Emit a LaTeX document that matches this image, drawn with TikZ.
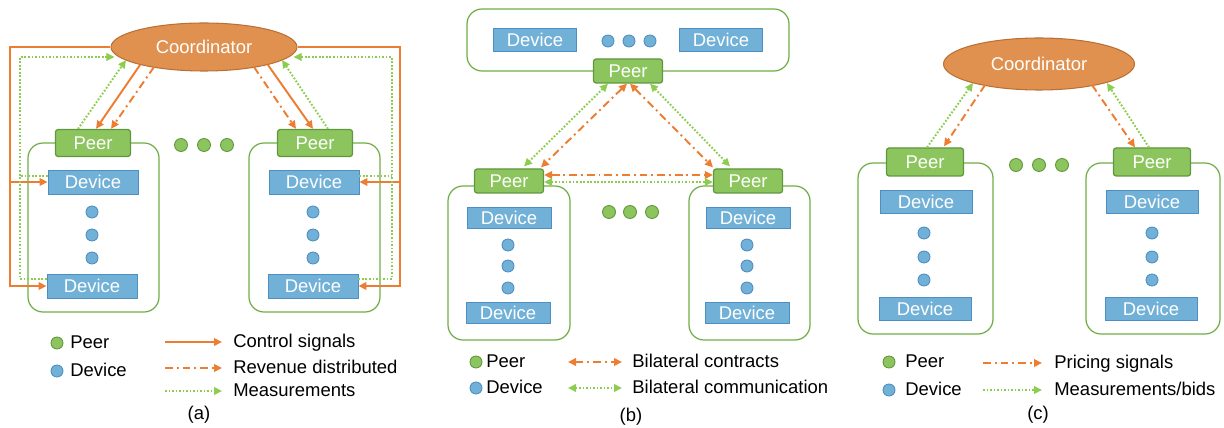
\documentclass[tikz,border=0pt]{standalone}
\usepackage{fontspec}
\setmainfont{Liberation Sans}
\usepackage{tikz}
\usetikzlibrary{calc,shapes.geometric,arrows.meta}
\definecolor{myorange}{RGB}{224,145,80}
\definecolor{myorangedark}{RGB}{186,112,52}
\definecolor{myorangeline}{RGB}{237,125,49}
\definecolor{mygreen}{RGB}{140,197,93}
\definecolor{mygreendark}{RGB}{96,150,60}
\definecolor{myblue}{RGB}{113,176,215}
\definecolor{mybluedark}{RGB}{78,142,194}
\definecolor{mydots}{RGB}{140,205,80}
\definecolor{mygroup}{RGB}{112,173,71}
\tikzset{
    peer/.style={
        draw=mygreendark, fill=mygreen, rounded corners=1.5pt,
        line width=0.7pt, inner sep=0pt, text=white,
        minimum width=15mm, minimum height=5.4mm
    },
    device/.style={
        draw=mybluedark, fill=myblue, line width=0.5pt,
        inner sep=0pt, text=white,
        minimum width=18mm, minimum height=4.8mm
    }
}

\begin{document}
\begin{tikzpicture}[
    x=0.2mm, y=-0.2mm,
    font=\fontsize{10.5}{12}\selectfont,
    >={Triangle[length=1.6mm,width=1.5mm]},
  coord/.style={
    ellipse,
    draw=myorangedark,
    fill=myorange,
    line width=0.6pt,
    inner sep=0pt,
    text=white,
    minimum width=37.2mm,
    minimum height=9.6mm
    },
  group/.style={draw=mygroup, line width=0.7pt, rounded corners=3mm},
  gdot/.style={draw=mygreendark, fill=mygreen, line width=0.5pt},
  bdot/.style={draw=mybluedark, fill=myblue, line width=0.5pt},
  ctrl/.style={draw=myorangeline, line width=1.1pt, ->},
  rev/.style={ctrl, dash pattern=on 4.5pt off 2.2pt on 1.1pt off 2.2pt},
  meas/.style={draw=mydots, line width=1.1pt, dash pattern=on 1pt off 1pt, ->},
  legend/.style={anchor=west, inner sep=0pt, text height=1.6ex, text depth=0.4ex}
      ]
\useasboundingbox (0,0) rectangle (1224,428);

% (a)
\draw[group] (28,143) rectangle (159,312);
\draw[group] (249,143) rectangle (380,312);
\node[coord] (ca) at (204,47) {Coordinator};
\node[peer] (pa1) at (93,143) {Peer};
\node[peer] (pa2) at (315,143) {Peer};
\node[device] (da1) at (93,182) {Device};
\node[device] (da2) at (92,286) {Device};
\node[device] (da3) at (314,182) {Device};
\node[device] (da4) at (313,286) {Device};
\foreach \y in {212,235,258}
  {
  \draw[bdot] (92,\y) circle (1.2mm);
  \draw[bdot] (313,\y) circle (1.2mm);
  }
\foreach \x in {181,204,227}
  \draw[gdot] (\x,145) circle (1.3mm);

\coordinate (ol) at (10,47);
\coordinate (ml) at (20,57);
\coordinate (or) at (400,47);
\coordinate (mr) at (392,57);
\draw[ctrl] (ca.west) -- (ol) |- (da2.west);
\draw[ctrl] (ol |- da1.west) -- (da1.west);
\draw[meas] ($(da2.west)+(0,-7)$) -| (ml) -- ($(ml -| ca.west)+(4,0)$);
\draw[meas,-] ($(da1.west)+(0,-6)$) -- +(-28,0);
\draw[ctrl] (ca.east) -- (or) |- (da4.east);
\draw[ctrl] (or |- da3.east) -- (da3.east);
\draw[meas] ($(da4.east)+(0,-7)$) -| (mr) -- ($(mr -| ca.east)+(-4,0)$);
\draw[meas,-] ($(da3.east)+(0,-6)$) -- +(33,0);

\draw[ctrl] ($(ca)+(-64,18)$) -- ($(pa1.north)+(3,0)$);
\draw[rev] ($(ca)+(-50,20)$) -- ($(pa1.north)+(18,0)$);
\draw[meas] ($(pa1.north)+(-15,0)$) -- ($(ca)+(-78,13)$);
\draw[ctrl] ($(ca)+(64,18)$) -- ($(pa2.north)+(-2,0)$);
\draw[rev] ($(ca)+(50,20)$) -- ($(pa2.north)+(-19,0)$);
\draw[meas] ($(pa2.north)+(13,0)$) -- ($(ca)+(78,13)$);

\draw[gdot] (57,343) circle (1.2mm);
\node[legend] (lpa) at (70,343) {Peer};
\draw[bdot] (57,371) circle (1.2mm);
\node[legend] (lda) at (70,371) {Device};
\node[legend] (la1) at (233,342) {Control signals};
\node[legend] (la2) at (233,368) {Revenue distributed};
\node[legend] (la3) at (233,391) {Measurements};
\foreach \Kind/\Label in {ctrl/la1, rev/la2, meas/la3}
  \draw[\Kind] ($(\Label.west)+(-68,0)$) -- ($(\Label.west)+(-11,0)$);
\node (capa) at (199,415) {(a)};

% (b)
\draw[group] (467,9) rectangle (789,71);
\draw[group] (448,186) rectangle (570,340);
\draw[group] (689,186) rectangle (810,340);
\node[device, minimum width=16.6mm, minimum height=4.6mm] (db1) at (535,40) {Device};
\node[device, minimum width=16.6mm, minimum height=4.6mm] (db2) at (721,40) {Device};
\foreach \x in {608,629,650}
  \draw[bdot] (\x,41) circle (1.2mm);
\node[peer, minimum width=13.8mm, minimum height=4.8mm] (pb0) at (628,71) {Peer};
\node[peer, minimum width=13.8mm, minimum height=4.8mm] (pb1) at (509,181) {Peer};
\node[peer, minimum width=13.8mm, minimum height=4.8mm] (pb2) at (748,181) {Peer};
\node[device, minimum width=16.8mm, minimum height=4.3mm] (db3) at (509,218) {Device};
\node[device, minimum width=16.8mm, minimum height=4.3mm] (db4) at (508,313) {Device};
\node[device, minimum width=16.8mm, minimum height=4.3mm] (db5) at (748,218) {Device};
\node[device, minimum width=16.8mm, minimum height=4.3mm] (db6) at (747,313) {Device};
\foreach \y in {245,266,288}
  {
  \draw[bdot] (508,\y) circle (1.2mm);
  \draw[bdot] (747,\y) circle (1.2mm);
  }
\foreach \x in {609,630,652}
  \draw[gdot] (\x,212) circle (1.3mm);

\draw[meas,<->] ($(pb0.south)+(-20,0)$) -- ($(pb1.north)+(15,-2)$);
\draw[rev,<->] ($(pb0.south)+(-1,0)$) -- ($(pb1.north)+(32,-1)$);
\draw[rev,<->] ($(pb0.south)+(2,0)$) -- ($(pb2.north)+(-35,-1)$);
\draw[meas,<->] ($(pb0.south)+(22,0)$) -- ($(pb2.north)+(-18,-2)$);
\draw[rev,<->] ($(pb1.east)+(0,-6)$) -- ($(pb2.west)+(0,-6)$);
\draw[meas,<->] ($(pb1.east)+(0,1)$) -- ($(pb2.west)+(0,1)$);

\draw[gdot] (476,362) circle (1.2mm);
\node[legend] (lpb) at (486,362) {Peer};
\draw[bdot] (476,388) circle (1.2mm);
\node[legend] (ldb) at (486,388) {Device};
\node[legend] (lb1) at (632,362) {Bilateral contracts};
\node[legend] (lb2) at (632,388) {Bilateral communication};
\foreach \Kind/\Label in {rev/lb1, meas/lb2}
  \draw[\Kind,<->] ($(\Label.west)+(-64,0)$) -- ($(\Label.west)+(-10,0)$);
\node (capb) at (631,417) {(b)};

% (c)
\draw[group] (858,163) rectangle (993,334);
\draw[group] (1086,163) rectangle (1220,334);
\node[coord, minimum width=38.2mm, minimum height=10.4mm] (cc) at (1039,64) {Coordinator};
\node[peer, minimum width=15.4mm, minimum height=5.6mm] (pc1) at (925,162) {Peer};
\node[peer, minimum width=15.4mm, minimum height=5.6mm] (pc2) at (1152,162) {Peer};
\node[device, minimum width=18.4mm, minimum height=4.6mm] (dc1) at (926,202) {Device};
\node[device, minimum width=18.4mm, minimum height=4.6mm] (dc2) at (925,309) {Device};
\node[device, minimum width=18.4mm, minimum height=4.6mm] (dc3) at (1152,202) {Device};
\node[device, minimum width=18.4mm, minimum height=4.6mm] (dc4) at (1151,309) {Device};
\foreach \y in {233,257,280}
  {
  \draw[bdot] (924,\y) circle (1.2mm);
  \draw[bdot] (1152,\y) circle (1.2mm);
  }
\foreach \x in {1016,1039,1062}
  \draw[gdot] (\x,165) circle (1.3mm);

\draw[meas] ($(pc1.north)+(2,0)$) -- ($(cc)+(-66,19)$);
\draw[rev] ($(cc)+(-54,21)$) -- ($(pc1.north)+(19,-1)$);
\draw[rev] ($(cc)+(53,21)$) -- ($(pc2.north)+(-17,0)$);
\draw[meas] ($(pc2.north)+(-3,0)$) -- ($(cc)+(68,19)$);

\draw[gdot] (889,362) circle (1.2mm);
\node[legend] (lpc) at (905,362) {Peer};
\draw[bdot] (889,390) circle (1.2mm);
\node[legend] (ldc) at (905,390) {Device};
\node[legend] (lc1) at (1054,363) {Pricing signals};
\node[legend] (lc2) at (1054,390) {Measurements/bids};
\foreach \Kind/\Label in {rev/lc1, meas/lc2}
  \draw[\Kind] ($(\Label.west)+(-71,0)$) -- ($(\Label.west)+(-12,0)$);
\node (capc) at (1038,415) {(c)};

\end{tikzpicture}
\end{document}
